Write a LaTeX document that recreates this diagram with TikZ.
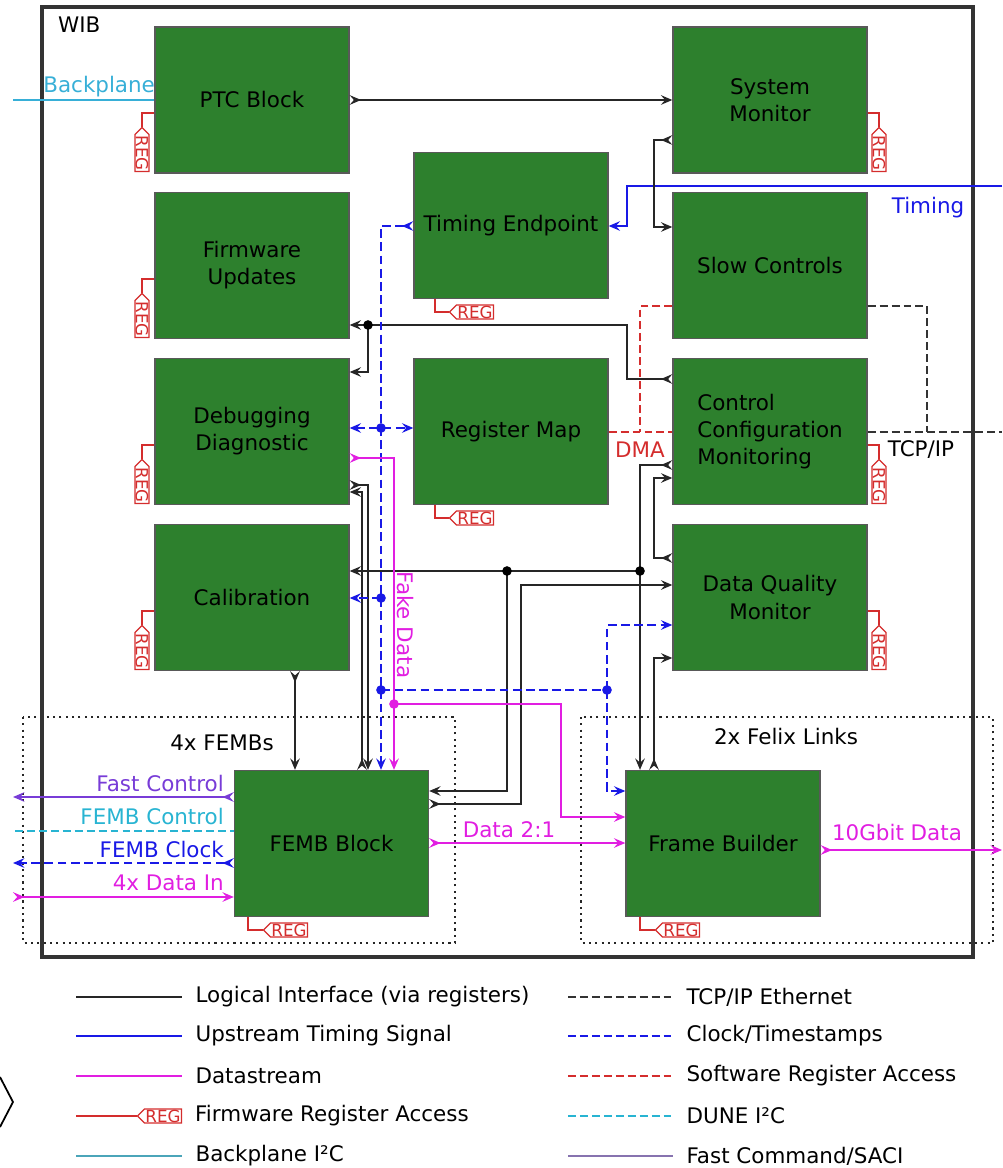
\documentclass[tikz,border=0pt]{standalone}
\usepackage{fontspec}
\setmainfont{DejaVu Sans}
\usetikzlibrary{arrows.meta,calc,positioning,shapes.symbols}

\definecolor{blkgreen}{RGB}{45,128,45}
\definecolor{regred}{RGB}{212,45,45}
\definecolor{clkblue}{RGB}{25,25,230}
\definecolor{datamag}{RGB}{225,30,225}
\definecolor{bpcyan}{RGB}{55,175,215}
\definecolor{i2ccyan}{RGB}{40,180,210}
\definecolor{fcpurple}{RGB}{120,60,215}
\definecolor{lgpurple}{RGB}{135,115,175}
\definecolor{lgteal}{RGB}{75,165,185}

\tikzset{
  blk/.style={draw=black!65,fill=blkgreen,line width=0.8pt,minimum width=3.88cm,minimum height=2.92cm,align=center,inner sep=0pt},
  logic/.style={draw=black!85,line width=0.8pt},
  clkline/.style={draw=clkblue,line width=0.8pt,dash pattern=on 5pt off 2.5pt},
  timeline/.style={draw=clkblue,line width=0.8pt},
  dataline/.style={draw=datamag,line width=0.8pt},
  tcpline/.style={draw=black!80,line width=0.8pt,dash pattern=on 4.5pt off 2.3pt},
  swline/.style={draw=regred,line width=0.8pt,dash pattern=on 4.5pt off 2.3pt},
  i2cline/.style={draw=i2ccyan,line width=0.8pt,dash pattern=on 4.5pt off 2.3pt},
  fcline/.style={draw=fcpurple,line width=0.8pt},
  regline/.style={draw=regred,line width=0.8pt},
  regtag/.style={signal,signal to=west,signal pointer angle=90,draw=regred,fill=white,text=regred,line width=0.7pt,
    inner xsep=0.6pt,inner ysep=0pt,minimum height=0.28cm,font=\fontsize{9.5}{9.5}\selectfont},
  dotbox/.style={draw=black!85,line width=1.2pt,dash pattern=on 1.2pt off 2.4pt},
  endtip/.style={-{Stealth[length=6.5pt,width=5.5pt,inset=2.4pt]}},
  flow/.style={{Stealth[reversed,length=6.5pt,width=5.5pt,inset=2.4pt]}-{Stealth[length=6.5pt,width=5.5pt,inset=2.4pt]}},
  jdot/.style={circle,fill,inner sep=0pt,minimum size=5.5pt},
}

\begin{document}
\begin{tikzpicture}[x=0.02cm,y=-0.02cm,font=\fontsize{12.2}{15.4}\selectfont]
  \useasboundingbox (0,0) rectangle (1002,1168);

  % frames
  \draw[dotbox] (23,717) rectangle (455,943);
  \draw[dotbox] (581,717) rectangle (993,943);
  \draw[line width=2.8pt,draw=black!80] (42,7) rectangle (973,957);
  \node[anchor=west] (wib) at (52,25) {WIB};
  \node (lfemb) at (222,743) {4x FEMBs};
  \node (lfelix) at (786,737) {2x Felix Links};

  % blocks
  \node[blk] (ptc) at (252,100) {PTC Block};
  \node[blk] (fwupd) at (252,265.5) {Firmware\\Updates};
  \node[blk] (debug) at (252,431.5) {Debugging\\Diagnostic};
  \node[blk] (calib) at (252,597.5) {Calibration};
  \node[blk] (tendp) at (511,225.5) {Timing Endpoint};
  \node[blk] (regmap) at (511,431.5) {Register Map};
  \node[blk] (sysmon) at (770,100) {System\\Monitor};
  \node[blk] (slowctl) at (770,265.5) {Slow Controls};
  \node[blk,align=left] (ccm) at (770,431.5) {Control\\Configuration\\Monitoring};
  \node[blk] (dqm) at (770,597.5) {Data Quality\\Monitor};
  \node[blk] (femb) at (331.5,843.5) {FEMB Block};
  \node[blk] (framebld) at (723,843.5) {Frame Builder};

  % register tags
  \node[regtag,rotate=-90] (rptc) at (142,153) {REG};
  \node[regtag,rotate=-90] (rfw) at (142,319) {REG};
  \node[regtag,rotate=-90] (rdbg) at (142,485) {REG};
  \node[regtag,rotate=-90] (rcal) at (142,651) {REG};
  \node[regtag,rotate=-90] (rsys) at (879,153) {REG};
  \node[regtag,rotate=-90] (rccm) at (879,485) {REG};
  \node[regtag,rotate=-90] (rdqm) at (879,651) {REG};
  \node[regtag] (rtep) at (475,312) {REG};
  \node[regtag] (rmap) at (475,518) {REG};
  \node[regtag] (rfemb) at (289,930) {REG};
  \node[regtag] (rfb) at (681,930) {REG};
  \draw[regline] (ptc.west |- 0,113) -| (rptc.west);
  \draw[regline] (fwupd.west |- 0,279) -| (rfw.west);
  \draw[regline] (debug.west |- 0,445) -| (rdbg.west);
  \draw[regline] (calib.west |- 0,611) -| (rcal.west);
  \draw[regline] (sysmon.east |- 0,113) -| (rsys.west);
  \draw[regline] (ccm.east |- 0,445) -| (rccm.west);
  \draw[regline] (dqm.east |- 0,611) -| (rdqm.west);
  \draw[regline] (435,0 |- tendp.south) |- (rtep.west);
  \draw[regline] (435,0 |- regmap.south) |- (rmap.west);
  \draw[regline] (248,0 |- femb.south) |- (rfemb.west);
  \draw[regline] (640,0 |- framebld.south) |- (rfb.west);

  % backplane and timing
  \coordinate (bpin) at (13,100);
  \draw[draw=bpcyan,line width=0.8pt] (bpin) -- (ptc.west |- 0,100);
  \node[text=bpcyan,anchor=south east,inner sep=1pt] (lbp) at (157,99) {Backplane};
  \coordinate (tin) at (1002,186);
  \draw[timeline,endtip] (tin) -- (627,186) -- (627,226) -- (tendp.east |- 0,226);
  \node[text=clkblue] (ltime) at (928,208) {Timing};

  % logical interfaces
  \draw[logic,flow] (ptc.east |- 0,100) -- (sysmon.west |- 0,100);
  \draw[logic,flow] (sysmon.west |- 0,140) -- (654,140) -- (654,227) -- (slowctl.west |- 0,227);
  \coordinate (jfw) at (368,325);
  \draw[logic,flow] (ccm.west |- 0,379) -- (627,379) -- (627,325) -- (fwupd.east |- 0,325);
  \draw[logic,endtip] (jfw) |- (debug.east |- 0,372);
  \draw[logic,flow] (debug.east |- 0,485) -| (368,0 |- femb.north);
  \draw[logic,flow] (362,0 |- femb.north) |- (debug.east |- 0,492);
  \draw[logic,flow] (295,0 |- calib.south) -- (295,0 |- femb.north);
  \coordinate (jcal) at (507,571);
  \coordinate (jfb) at (640,571);
  \draw[logic,flow] (ccm.west |- 0,465) -| (640,0 |- framebld.north);
  \draw[logic,endtip] (jfb) -- (calib.east |- 0,571);
  \draw[logic,endtip] (jcal) |- (femb.east |- 0,791);
  \draw[logic,flow] (femb.east |- 0,804) -| (521,585) -- (dqm.west |- 0,585);
  \draw[logic,flow] (654,0 |- framebld.north) |- (dqm.west |- 0,658);
  \draw[logic,flow] (dqm.west |- 0,558) -| (654,478) -- (ccm.west |- 0,478);
  \node[jdot] at (jfw) {};
  \node[jdot] at (jcal) {};
  \node[jdot] at (jfb) {};

  % clock distribution
  \coordinate (jc1) at (381,428);
  \coordinate (jc2) at (381,598);
  \coordinate (jc3) at (381,690);
  \coordinate (jc4) at (607,690);
  \draw[clkline,flow] (tendp.west |- 0,226) -| (381,0 |- femb.north);
  \draw[clkline,{Stealth[length=6.5pt,width=5.5pt,inset=2.4pt]}-{Stealth[length=6.5pt,width=5.5pt,inset=2.4pt]}]
    (debug.east |- 0,428) -- (regmap.west |- 0,428);
  \draw[clkline,endtip] (jc2) -- (calib.east |- 0,598);
  \draw[clkline] (jc3) -- (jc4);
  \draw[clkline,endtip] (jc4) |- (dqm.west |- 0,625);
  \draw[clkline,endtip] (jc4) |- (framebld.west |- 0,791);
  \foreach \j in {jc1,jc2,jc3,jc4}
    \node[jdot,clkblue] at (\j) {};

  % data
  \coordinate (jfake) at (394,704);
  \draw[dataline,flow] (debug.east |- 0,458) -| (394,0 |- femb.north);
  \draw[dataline,endtip] (jfake) -| (561,817) -- (framebld.west |- 0,817);
  \node[jdot,datamag] at (jfake) {};
  \node[text=datamag,rotate=-90] (lfake) at (405,625) {Fake Data};
  \draw[dataline,flow] (femb.east |- 0,843) -- (framebld.west |- 0,843);
  \node[text=datamag] (ldata) at (509,830) {Data 2:1};
  \coordinate (dout) at (1002,850);
  \draw[dataline,flow] (framebld.east |- 0,850) -- (dout);
  \node[text=datamag] (lgbit) at (897,833) {10Gbit Data};

  % front end links
  \coordinate (fcout) at (13,797);
  \coordinate (i2cout) at (15,831);
  \coordinate (clkout) at (13,863);
  \coordinate (datain) at (13,897);
  \draw[fcline,flow] (femb.west |- 0,797) -- (fcout);
  \draw[i2cline] (i2cout) -- (femb.west |- 0,831);
  \draw[clkline,flow] (femb.west |- 0,863) -- (clkout);
  \draw[dataline,flow] (datain) -- (femb.west |- 0,897);
  \node[text=fcpurple,anchor=east] (lfc) at (230,784) {Fast Control};
  \node[text=i2ccyan,anchor=east] (li2c) at (230,817) {FEMB Control};
  \node[text=clkblue,anchor=east] (lclk) at (230,850) {FEMB Clock};
  \node[text=datamag,anchor=east] (ldin) at (230,883) {4x Data In};

  % ethernet and software access
  \draw[tcpline] (slowctl.east |- 0,306) -| (927,432);
  \draw[tcpline] (ccm.east |- 0,432) -- (1002,432);
  \node (ltcp) at (921,450) {TCP/IP};
  \draw[swline] (slowctl.west |- 0,306) -| (640,432);
  \draw[swline] (regmap.east |- 0,432) -- (ccm.west |- 0,432);
  \node[text=regred] (ldma) at (640,450) {DMA};

  % legend
  \draw[line width=1pt] (0,1077) -- (13,1102) -- (0,1127);
  \draw[logic] (76,997) -- (182,997) node[right=4pt,text=black] {Logical Interface (via registers)};
  \draw[timeline] (76,1036) -- (182,1036) node[right=4pt,text=black] {Upstream Timing Signal};
  \draw[dataline] (76,1076) -- (182,1076) node[right=4pt,text=black] {Datastream};
  \node[regtag] (rleg) at (163,1116) {REG};
  \draw[regline] (76,1116) -- (rleg.west);
  \node[anchor=west] at (189,1116) {Firmware Register Access};
  \draw[draw=lgteal,line width=0.8pt] (76,1156) -- (182,1156) node[right=4pt,text=black] {Backplane I²C};
  \draw[tcpline] (568,997) -- (673,997) node[right=4pt,text=black] {TCP/IP Ethernet};
  \draw[clkline,dash pattern=on 4.5pt off 2.3pt] (568,1036) -- (673,1036) node[right=4pt,text=black] {Clock/Timestamps};
  \draw[swline] (568,1076) -- (673,1076) node[right=4pt,text=black] {Software Register Access};
  \draw[i2cline] (568,1116) -- (673,1116) node[right=4pt,text=black] {DUNE I²C};
  \draw[draw=lgpurple,line width=0.8pt] (568,1156) -- (673,1156) node[right=4pt,text=black] {Fast Command/SACI};
\end{tikzpicture}
\end{document}
